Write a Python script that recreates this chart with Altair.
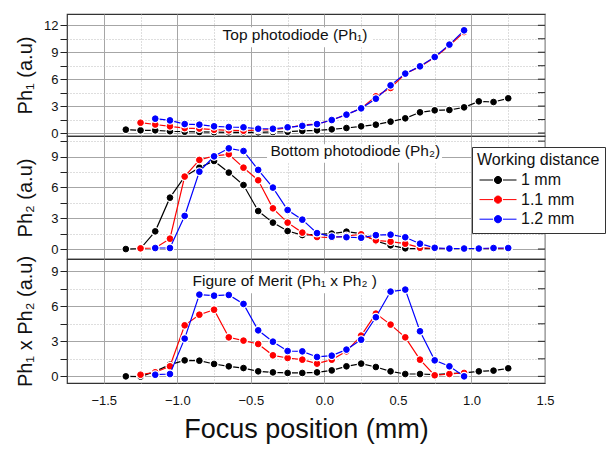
import altair as alt
import pandas as pd

SERIES = ["1 mm", "1.1 mm", "1.2 mm"]
COLORS = ["#000000", "#ff0000", "#0000ff"]

# x positions (mm)
X_BLACK = [-1.35, -1.25, -1.15, -1.05, -0.95, -0.85, -0.75, -0.65, -0.55, -0.45, -0.35, -0.25, -0.15,
           -0.05, 0.05, 0.15, 0.25, 0.35, 0.45, 0.55, 0.65, 0.75, 0.85, 0.95, 1.05, 1.15, 1.25]
X_RED_SHORT = [-1.25, -1.15, -1.05, -0.95, -0.85, -0.75, -0.65, -0.55, -0.45, -0.35, -0.25, -0.15,
               -0.05, 0.05, 0.15, 0.25, 0.35, 0.45, 0.55, 0.65, 0.75, 0.85, 0.95]
X_RED_LONG = X_RED_SHORT + [1.05, 1.15, 1.25]
X_BLUE_SHORT = [-1.15, -1.05, -0.95, -0.85, -0.75, -0.65, -0.55, -0.45, -0.35, -0.25, -0.15,
                -0.05, 0.05, 0.15, 0.25, 0.35, 0.45, 0.55, 0.65, 0.75, 0.85, 0.95]
X_BLUE_LONG = X_BLUE_SHORT + [1.05, 1.15, 1.25]

# Top photodiode Ph1
PH1_BLACK = [0.38, 0.30, 0.30, 0.20, 0.15, 0.12, 0.10, 0.08, 0.08, 0.08, 0.12, 0.15, 0.24,
             0.30, 0.41, 0.56, 0.75, 0.93, 1.27, 1.64, 2.31, 2.53, 2.57, 2.86, 3.53, 3.46, 3.87]
PH1_RED = [1.15, 0.95, 0.75, 0.55, 0.50, 0.37, 0.30, 0.26, 0.34, 0.37, 0.56, 0.90,
           1.00, 1.45, 2.05, 2.75, 4.09, 5.02, 6.60, 7.40, 8.40, 9.75, 11.25]
PH1_BLUE = [1.60, 1.41, 1.00, 0.93, 0.75, 0.67, 0.64, 0.48, 0.48, 0.64, 0.80,
            1.00, 1.45, 2.05, 2.75, 3.83, 5.31, 6.62, 7.43, 8.47, 9.85, 11.44]

# Bottom photodiode Ph2
PH2_BLACK = [0.00, 0.05, 1.72, 5.00, 7.05, 7.92, 8.57, 7.44, 6.23, 3.70, 2.57, 1.75, 1.36,
             1.43, 1.50, 1.69, 1.50, 0.78, 0.36, 0.07, 0.05, 0.05, 0.05, 0.05, 0.05, 0.05, 0.05]
PH2_RED = [0.07, 0.10, 1.01, 7.05, 8.67, 9.06, 9.22, 7.92, 6.69, 3.96, 2.57, 1.60,
           1.17, 1.11, 1.27, 1.43, 0.85, 0.72, 0.52, 0.13, 0.05, 0.05, 0.05, 0.05, 0.05, 0.05]
PH2_BLUE = [0.10, 0.10, 3.22, 7.53, 9.02, 9.80, 9.54, 7.70, 5.98, 3.80, 2.86,
            1.55, 1.20, 1.15, 1.10, 1.35, 1.40, 1.15, 0.52, 0.12, 0.05, 0.05, 0.05, 0.10, 0.10]

# Figure of merit Ph1 x Ph2
FOM_BLACK = [0.00, -0.02, 0.43, 1.00, 1.37, 1.34, 1.06, 0.86, 0.71, 0.43, 0.34, 0.29, 0.29,
             0.34, 0.51, 0.86, 1.09, 0.80, 0.43, 0.20, 0.20, 0.14, 0.23, 0.29, 0.43, 0.49, 0.69]
FOM_RED = [0.14, 0.35, 0.86, 4.37, 5.28, 5.71, 3.34, 3.06, 2.77, 1.80, 1.57, 1.43,
           1.09, 1.43, 2.14, 3.49, 5.37, 4.43, 3.34, 1.43, 0.09, 0.20, 0.29]
FOM_BLUE = [0.14, 0.20, 3.23, 7.00, 6.91, 6.97, 6.20, 3.94, 2.97, 2.17, 2.14,
            1.66, 1.77, 2.29, 3.14, 5.06, 7.26, 7.43, 3.86, 1.37, 0.86, 0.00]

X_TICKS = [-1.5, -1.25, -1.0, -0.75, -0.5, -0.25, 0.0, 0.25, 0.5, 0.75, 1.0, 1.25, 1.5]

FONT = "Liberation Sans"
GRID = "#a6a6a6"
MINOR = "#bdbdbd"
TXT = "#111111"

SYM = ("M-3.7,0H-1.0M1.0,0H3.7"
       "M-0.72,0A0.72,0.72,0,1,1,0.72,0A0.72,0.72,0,1,1,-0.72,0Z")

xscale = alt.Scale(domain=[-1.75, 1.5], nice=False, zero=False)
cscale = alt.Scale(domain=SERIES, range=COLORS)

LEG = alt.Legend(
    title="Working distance", orient="none", legendX=405, legendY=133,
    symbolType=SYM, symbolSize=100, symbolStrokeWidth=1.0,
    symbolOffset=13, labelOffset=15,
    titleFont=FONT, titleFontSize=16, titleFontWeight="normal", titleColor=TXT,
    labelFont=FONT, labelFontSize=16, labelColor=TXT,
    padding=5, rowPadding=3.6, titlePadding=4,
    strokeColor="#333333", fillColor="white", cornerRadius=0,
)

X_MAJOR_TEST = "abs(datum.value * 2 - round(datum.value * 2)) < 0.01"
Y_MAJOR_TEST = "abs(datum.value / 3 - round(datum.value / 3)) < 0.01"


def make_df(xs_list, ys_list):
    rows = []
    for s, xs, ys in zip(SERIES, xs_list, ys_list):
        for x, y in zip(xs, ys):
            rows.append({"x": x, "y": y, "series": s})
    return pd.DataFrame(rows)


def panel(df, ydom, yticks, ytitle, note, note_xy, box, height, bottom):
    yscale = alt.Scale(domain=ydom, nice=False, zero=False)
    xgrid = dict(
        gridColor={"condition": {"test": X_MAJOR_TEST, "value": GRID}, "value": MINOR},
        gridDash={"condition": {"test": X_MAJOR_TEST, "value": []}, "value": [1, 2]},
    )
    if bottom:
        xaxis = alt.Axis(values=X_TICKS, format=".1f", title="Focus position (mm)",
                         labelExpr=f"{X_MAJOR_TEST} ? datum.label : ''",
                         grid=True, ticks=False, domain=False,
                         labelFont=FONT, labelFontSize=13, labelColor=TXT, labelPadding=11,
                         labelFlush=False, titleFont=FONT, titleFontSize=27,
                         titleFontWeight="normal", titleColor=TXT, titlePadding=9, **xgrid)
    else:
        xaxis = alt.Axis(values=X_TICKS, labels=False, ticks=False, domain=False, title=None,
                         grid=True, minExtent=0, maxExtent=0, **xgrid)
    yaxis = alt.Axis(values=yticks, format="~g", title=ytitle, orient="left",
                     labelExpr=f"{Y_MAJOR_TEST} ? datum.label : ''",
                     grid=True,
                     gridColor={"condition": {"test": Y_MAJOR_TEST, "value": GRID}, "value": MINOR},
                     gridDash={"condition": {"test": Y_MAJOR_TEST, "value": []}, "value": [1, 2]},
                     domain=False, tickSize=7, tickColor="#222222", labelPadding=2,
                     labelFont=FONT, labelFontSize=13, labelColor=TXT,
                     titleFont=FONT, titleFontSize=20, titleFontWeight="normal",
                     titleColor=TXT, titlePadding=6, minExtent=26, maxExtent=26)
    X = lambda f: alt.X(f, scale=xscale, axis=xaxis)
    Y = lambda f: alt.Y(f, scale=yscale, axis=yaxis)

    # inward ticks on the right frame
    rt = alt.Chart(pd.DataFrame({"y": yticks, "x0": [1.452] * len(yticks),
                                 "x1": [1.5] * len(yticks)})).mark_rule(
        color="#222222", strokeWidth=1).encode(x=X("x0:Q"), x2="x1:Q", y=Y("y:Q"))
    boxdf = pd.DataFrame({"x0": [box[0]], "x1": [box[1]], "y0": [box[2]], "y1": [box[3]]})
    rect = alt.Chart(boxdf).mark_rect(fill="white", opacity=1).encode(
        x=X("x0:Q"), x2="x1:Q", y=Y("y0:Q"), y2="y1:Q")
    txt = alt.Chart(pd.DataFrame({"x": [note_xy[0]], "y": [note_xy[1]], "t": [note]})).mark_text(
        font=FONT, fontSize=15.5, color=TXT, align="center", baseline="alphabetic").encode(
        x=X("x:Q"), y=Y("y:Q"), text="t:N")
    layers = [rt, rect, txt]
    for s in SERIES:
        sub = df[df.series == s]
        base = alt.Chart(sub).encode(x=X("x:Q"), y=Y("y:Q"))
        line = base.mark_line(strokeWidth=1.2).encode(
            stroke=alt.Stroke("series:N", scale=cscale, legend=LEG))
        halo = base.mark_circle(color="white", size=80, opacity=1)
        pts = base.mark_point(filled=True, shape="circle", size=32, strokeWidth=1, opacity=1).encode(
            fill=alt.Fill("series:N", scale=cscale, legend=LEG),
            stroke=alt.Stroke("series:N", scale=cscale, legend=LEG))
        layers += [line, halo, pts]
    return alt.layer(*layers).properties(width=478, height=height)


top = panel(make_df([X_BLACK, X_RED_SHORT, X_BLUE_SHORT], [PH1_BLACK, PH1_RED, PH1_BLUE]),
            [-0.33, 13.26], [0, 1.5, 3, 4.5, 6, 7.5, 9, 10.5, 12], "Ph₁ (a.u)",
            "Top photodiode (Ph₁)", [-0.2, 10.33], [-0.73, 0.33, 9.55, 11.78], 122, False)
mid = panel(make_df([X_BLACK, X_RED_LONG, X_BLUE_LONG], [PH2_BLACK, PH2_RED, PH2_BLUE]),
            [-0.97, 11.0], [0, 1.5, 3, 4.5, 6, 7.5, 9, 10.5], "Ph₂ (a.u)",
            "Bottom photodiode (Ph₂)", [0.21, 9.06], [-0.39, 0.80, 8.4, 10.2], 123, False)
bot = panel(make_df([X_BLACK, X_RED_SHORT, X_BLUE_SHORT], [FOM_BLACK, FOM_RED, FOM_BLUE]),
            [-0.57, 10.05], [0, 1.5, 3, 4.5, 6, 7.5, 9], "Ph₁ x Ph₂ (a.u)",
            "Figure of Merit (Ph₁ x Ph₂ )", [-0.27, 7.71], [-0.93, 0.40, 7.11, 8.83], 124, True)

chart = alt.vconcat(top, mid, bot, spacing=0, bounds="flush").properties(
    padding={"left": 14, "top": 13, "right": 2, "bottom": 2}
).configure(font=FONT).configure_view(stroke="#333333", strokeWidth=1.2)

chart.save("out.html", embed_options={"renderer": "svg", "actions": False})
